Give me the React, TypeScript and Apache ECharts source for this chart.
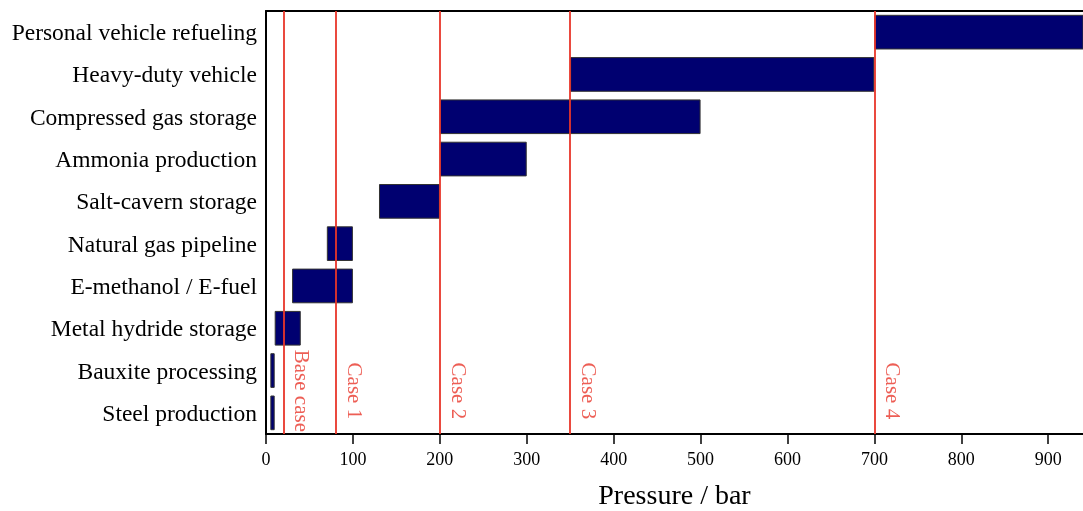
import React, { useEffect, useRef } from "react";
import * as echarts from "echarts";

const categories = [
  "Personal vehicle refueling",
  "Heavy-duty vehicle",
  "Compressed gas storage",
  "Ammonia production",
  "Salt-cavern storage",
  "Natural gas pipeline",
  "E-methanol / E-fuel",
  "Metal hydride storage",
  "Bauxite processing",
  "Steel production",
];
const rangeStart = [700, 350, 200, 200, 130, 70, 30, 10, 5, 5];
const rangeEnd = [1000, 700, 500, 300, 200, 100, 100, 40, 10, 10];
const caseNames = ["Base case", "Case 1", "Case 2", "Case 3", "Case 4"];
const casePressures = [20, 80, 200, 350, 700];
const xTicks = [0, 100, 200, 300, 400, 500, 600, 700, 800, 900];

const FONT = "'Times New Roman', 'Liberation Serif', serif";
const RED = "#e8362a";

export default function App() {
  const ref = useRef<HTMLDivElement>(null);
  useEffect(() => {
    if (!ref.current) return;
    const chart = echarts.init(ref.current, null, { renderer: "svg" });
    const lengths = rangeEnd.map((e, i) => e - rangeStart[i]);
    chart.setOption({
      animation: false,
      grid: {
        left: 266,
        right: 0,
        top: 11,
        bottom: 77,
        containLabel: false,
        outerBoundsMode: "none",
      },
      xAxis: [
        {
          type: "value",
          min: 0,
          max: 940,
          interval: 100,
          position: "bottom",
          name: "Pressure / bar",
          nameLocation: "middle",
          nameGap: 46,
          nameTextStyle: { fontFamily: FONT, fontSize: 28, color: "#000" },
          axisLine: { show: true, lineStyle: { color: "#000", width: 2 } },
          axisTick: { show: true, length: 10, lineStyle: { color: "#000", width: 1.5 } },
          axisLabel: {
            fontFamily: FONT,
            fontSize: 18,
            color: "#000",
            margin: 16,
            showMaxLabel: false,
            formatter: (v: number) => (xTicks.includes(v) ? String(v) : ""),
          },
          splitLine: { show: false },
        },
        {
          type: "value",
          min: 0,
          max: 940,
          position: "top",
          axisLine: { show: true, lineStyle: { color: "#000", width: 2 } },
          axisTick: { show: false },
          axisLabel: { show: false },
          splitLine: { show: false },
        },
      ],
      yAxis: [
        {
          type: "category",
          data: categories,
          inverse: true,
          axisLine: { show: true, lineStyle: { color: "#000", width: 2 } },
          axisTick: { show: false },
          axisLabel: { fontFamily: FONT, fontSize: 23.5, color: "#000", margin: 9 },
        },
        {
          type: "value",
          min: 0,
          max: 10,
          show: false,
        },
      ],
      series: [
        {
          type: "bar",
          stack: "range",
          data: rangeStart,
          barWidth: "82%",
          itemStyle: { color: "transparent" },
          silent: true,
        },
        {
          type: "bar",
          stack: "range",
          data: lengths,
          barWidth: "82%",
          clip: true,
          itemStyle: { color: "#000070", borderColor: "#333", borderWidth: 1 },
          markLine: {
            symbol: "none",
            silent: true,
            label: { show: false },
            lineStyle: { color: RED, width: 1.8, type: "solid" },
            data: casePressures.map((p) => ({ xAxis: p })),
          },
        },
        {
          type: "scatter",
          xAxisIndex: 0,
          yAxisIndex: 1,
          symbolSize: 0,
          data: casePressures.map((p, i) => [p, 1.02, caseNames[i]]),
          label: {
            show: true,
            position: [19, 0],
            align: "center",
            verticalAlign: "middle",
            rotate: -90,
            color: RED,
            fontFamily: FONT,
            fontSize: 21,
            formatter: (params: any) => params.data[2],
          },
          z: 10,
        },
      ],
    });
    return () => chart.dispose();
  }, []);
  return (
    <div
      ref={ref}
      style={{ position: "fixed", left: 0, top: 0, width: 1083, height: 511 }}
    />
  );
}
